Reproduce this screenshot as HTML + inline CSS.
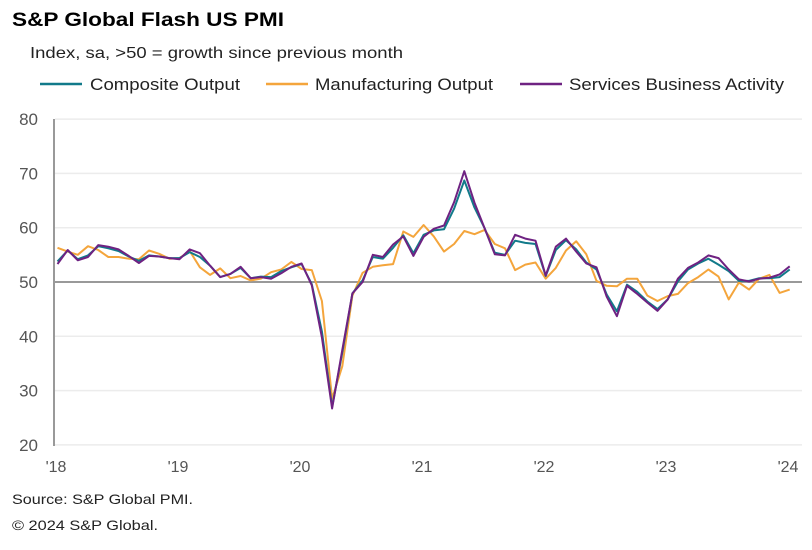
<!DOCTYPE html>
<html><head><meta charset="utf-8"><style>
body{margin:0;background:#fff;font-family:"Liberation Sans",Arial,sans-serif;}
svg text{font-family:"Liberation Sans",Arial,sans-serif;}
</style></head><body>
<svg id="c" width="812" height="545" xmlns="http://www.w3.org/2000/svg">
<text x="12" y="26" font-size="19" font-weight="bold" fill="#000" textLength="272" lengthAdjust="spacingAndGlyphs">S&amp;P Global Flash US PMI</text>
<text x="30" y="58" font-size="16" fill="#222" textLength="373" lengthAdjust="spacingAndGlyphs">Index, sa, &gt;50 = growth since previous month</text>
<line x1="40" y1="84" x2="82" y2="84" stroke="#127a8a" stroke-width="2.5"/>
<text x="90" y="90" font-size="17" fill="#222" textLength="150" lengthAdjust="spacingAndGlyphs">Composite Output</text>
<line x1="266" y1="84" x2="308" y2="84" stroke="#f4a53c" stroke-width="2.5"/>
<text x="315" y="90" font-size="17" fill="#222" textLength="178" lengthAdjust="spacingAndGlyphs">Manufacturing Output</text>
<line x1="520" y1="84" x2="562" y2="84" stroke="#6f2282" stroke-width="2.5"/>
<text x="569" y="90" font-size="17" fill="#222" textLength="215" lengthAdjust="spacingAndGlyphs">Services Business Activity</text>
<g id="grid" stroke="#ececec" stroke-width="1.5"></g>
<line x1="54" y1="119" x2="54" y2="446" stroke="#999" stroke-width="2"/>
<g id="yl" font-size="17" fill="#555" text-anchor="end"></g>
<g id="xl" font-size="16" fill="#555" text-anchor="middle"></g>
<line x1="54" y1="282" x2="802" y2="282" stroke="#999" stroke-width="2"/>
<g id="lines" fill="none" stroke-width="2" stroke-linejoin="round"></g>
<text x="12" y="504" font-size="14" fill="#222" textLength="181" lengthAdjust="spacingAndGlyphs">Source: S&amp;P Global PMI.</text>
<text x="12" y="530" font-size="14" fill="#222" textLength="146" lengthAdjust="spacingAndGlyphs">© 2024 S&amp;P Global.</text>
</svg>
<script>
var ns="http://www.w3.org/2000/svg";
function Y(v){return 282-(v-50)*5.43;}
function X(i){return 57.5+i*10.17;}
var g=document.getElementById('grid'),yl=document.getElementById('yl'),xl=document.getElementById('xl');
for(var v=20;v<=80;v+=10){var l=document.createElementNS(ns,'line');l.setAttribute('x1',55);l.setAttribute('x2',802);l.setAttribute('y1',Y(v));l.setAttribute('y2',Y(v));g.appendChild(l);
var t=document.createElementNS(ns,'text');t.setAttribute('x',38);t.setAttribute('y',Y(v)+6);t.textContent=v;yl.appendChild(t);}
var yrs=["'18","'19","'20","'21","'22","'23","'24"];
for(var k=0;k<7;k++){var t=document.createElementNS(ns,'text');t.setAttribute('x',56+k*122);t.setAttribute('y',472);t.textContent=yrs[k];xl.appendChild(t);}
var M=[56.3,55.6,55.0,56.6,55.9,54.6,54.6,54.3,54.2,55.8,55.2,54.3,54.4,55.7,52.7,51.3,52.5,50.7,51.1,50.3,50.6,51.8,52.3,53.7,52.4,52.2,46.5,28.5,34.5,47.5,51.7,52.8,53.1,53.3,59.3,58.3,60.5,58.4,55.6,57.0,59.4,58.8,59.6,57.0,56.2,52.2,53.2,53.6,50.6,52.6,55.8,57.5,55.1,50.2,49.3,49.2,50.6,50.6,47.5,46.5,47.4,47.8,49.8,50.9,52.3,51.0,46.8,49.9,48.6,50.6,51.3,48.0,48.6];
var C=[53.8,55.8,54.2,54.9,56.6,56.2,55.7,54.7,53.9,54.9,54.7,54.4,54.4,55.5,54.6,53.0,50.9,51.5,52.6,50.7,51.0,50.9,52.0,52.7,53.3,49.6,40.9,27.0,37.0,47.9,50.3,54.6,54.3,56.3,58.6,55.3,58.7,59.5,59.7,63.5,68.7,63.7,59.9,55.4,55.0,57.6,57.2,57.0,51.1,55.9,57.7,56.0,53.6,52.3,47.7,44.6,49.5,48.2,46.4,45.0,46.8,50.1,52.3,53.4,54.3,53.2,52.0,50.2,50.2,50.7,50.7,50.9,52.3];
var S=[53.3,55.9,54.0,54.6,56.8,56.5,56.0,54.8,53.5,54.8,54.7,54.4,54.2,56.0,55.3,53.0,50.9,51.5,52.8,50.7,50.9,50.6,51.6,52.8,53.4,49.4,39.8,26.7,37.5,47.9,50.0,55.0,54.6,56.9,58.4,54.8,58.3,59.8,60.4,64.7,70.4,64.6,59.9,55.1,54.9,58.7,58.0,57.6,51.2,56.5,58.0,55.6,53.4,52.7,47.3,43.7,49.3,47.8,46.2,44.7,46.8,50.6,52.6,53.6,54.9,54.4,52.3,50.5,50.1,50.6,50.8,51.4,52.9];
var L=document.getElementById('lines');
[[M,'#f4a53c'],[C,'#127a8a'],[S,'#6f2282']].forEach(function(s){var p=document.createElementNS(ns,'polyline');
p.setAttribute('points',s[0].map(function(v,i){return X(i).toFixed(1)+','+Y(v).toFixed(1);}).join(' '));p.setAttribute('stroke',s[1]);L.appendChild(p);});
</script>
</body></html>
